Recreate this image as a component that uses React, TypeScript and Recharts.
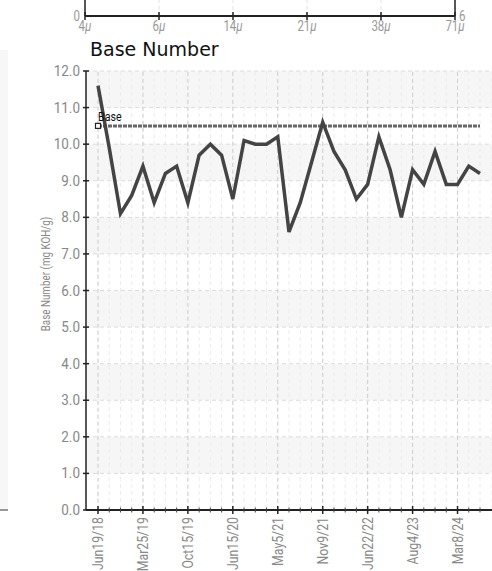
import {
  LineChart,
  Line,
  XAxis,
  YAxis,
  CartesianGrid,
  ReferenceLine,
  ReferenceDot,
} from 'recharts'

// sample dates (every 4th one is labelled on the axis)
const dates = [
  'Jun19/18', 'Aug14/18', 'Oct23/18', 'Jan8/19',
  'Mar25/19', 'May13/19', 'Jul2/19', 'Aug27/19',
  'Oct15/19', 'Dec10/19', 'Feb18/20', 'Apr14/20',
  'Jun15/20', 'Sep1/20', 'Nov17/20', 'Feb9/21',
  'May5/21', 'Jun22/21', 'Aug3/21', 'Sep21/21',
  'Nov9/21', 'Jan11/22', 'Mar8/22', 'Apr26/22',
  'Jun22/22', 'Sep13/22', 'Dec6/22', 'Mar14/23',
  'Aug4/23', 'Oct10/23', 'Nov28/23', 'Jan16/24',
  'Mar8/24', 'May2/24', 'Jun27/24',
]

// Base Number (mg KOH/g)
const baseNumber = [
  11.6, 9.9, 8.1, 8.6,
  9.4, 8.4, 9.2, 9.4,
  8.4, 9.7, 10.0, 9.7,
  8.5, 10.1, 10.0, 10.0,
  10.2, 7.6, 8.4, 9.5,
  10.6, 9.8, 9.3, 8.5,
  8.9, 10.2, 9.3, 8.0,
  9.3, 8.9, 9.8, 8.9,
  8.9, 9.4, 9.2,
]

const baseLimit = 10.5
const yTicks = [0, 1, 2, 3, 4, 5, 6, 7, 8, 9, 10, 11, 12]

// partial particle-size chart above
const sizes = ['4μ', '6μ', '14μ', '21μ', '38μ', '71μ']
const sizeLeftLabel = '0'
const sizeRightLabel = '6'

const data = dates.map((d, i) => ({ date: d, bn: baseNumber[i] }))
const sizeData = sizes.map((s) => ({ size: s }))

const FONT = 'Roboto, "Noto Sans", sans-serif'
const SQUEEZE = 0.82 // fake a condensed face

const YTick = ({ x, y, payload }: any) => (
  <g>
    <line x1={x + 3} x2={x + 9} y1={y} y2={y} stroke="#222" strokeWidth={1.5} />
    <text
      transform={`translate(${x},${y + 5}) scale(0.9,1)`}
      textAnchor="end"
      fontSize={15}
      fill="#888"
      fontFamily={FONT}
    >
      {Number(payload.value).toFixed(1)}
    </text>
  </g>
)

const XTick = ({ x, y, payload, index }: any) => {
  if (index % 4 !== 0) {
    return <line x1={x} x2={x} y1={y - 2.5} y2={y + 2.5} stroke="#444" strokeWidth={1} />
  }
  return (
    <g>
      <line x1={x} x2={x} y1={y - 4} y2={y + 4} stroke="#222" strokeWidth={1.5} />
      <text
        transform={`translate(${x + 5},${y + 7}) rotate(-90) scale(${SQUEEZE},1)`}
        textAnchor="end"
        fontSize={15}
        fill="#888"
        fontFamily={FONT}
      >
        {payload.value}
      </text>
    </g>
  )
}

const SizeTick = ({ x, y, payload }: any) => {
  const s = String(payload.value)
  return (
    <g>
      <line x1={x} x2={x} y1={y - 4} y2={y + 4} stroke="#222" strokeWidth={1.5} />
      <text
        transform={`translate(${x},${y + 15}) scale(${SQUEEZE},1)`}
        textAnchor="middle"
        fontSize={14}
        fill="#999"
        fontFamily={FONT}
      >
        {s.slice(0, -1)}
        <tspan fontStyle="italic">{s.slice(-1)}</tspan>
      </text>
    </g>
  )
}

// end labels of the particle chart's two value axes, at the bottom corners
const cornerLabel = (text: string, side: 'left' | 'right') => ({ viewBox }: any) => {
  const { x, y, width, height } = viewBox
  const tx = side === 'left' ? x + width - 5 : x + 4
  return (
    <text
      transform={`translate(${tx},${y + height + 5}) scale(${SQUEEZE},1)`}
      textAnchor={side === 'left' ? 'end' : 'start'}
      fontSize={14}
      fill="#999"
      fontFamily={FONT}
    >
      {text}
    </text>
  )
}

const BaseMarker = ({ cx, cy }: any) => (
  <g>
    <rect x={cx - 2.5} y={cy - 2.5} width={5} height={5} fill="#fff" stroke="#222" strokeWidth={1.2} />
    <text
      transform={`translate(${cx},${cy - 5}) scale(${SQUEEZE},1)`}
      fontSize={13}
      fill="#111"
      fontFamily={FONT}
    >
      Base
    </text>
  </g>
)

export default function App() {
  return (
    <div
      style={{
        position: 'fixed',
        left: 0,
        top: 0,
        width: 492,
        height: 571,
        overflow: 'hidden',
        background: '#fff',
      }}
    >
      {/* bits of the neighbouring chart on the left */}
      <div style={{ position: 'absolute', left: 0, top: 50, width: 8, height: 459, background: '#f7f7f7' }} />
      <div style={{ position: 'absolute', left: 0, top: 509, width: 8, height: 2, background: '#999' }} />

      {/* bottom of the particle chart above */}
      <div style={{ position: 'absolute', left: 0, top: -60 }}>
        <LineChart width={492} height={100} data={sizeData} margin={{ top: 10, right: 0, left: 0, bottom: 0 }}>
          <CartesianGrid horizontal={false} stroke="#e2e2e2" strokeDasharray="4 3" />
          <XAxis
            dataKey="size"
            height={24}
            padding={{ left: 0, right: 0 }}
            axisLine={{ stroke: '#222', strokeWidth: 2 }}
            tickLine={false}
            tickSize={0}
            tickMargin={0}
            interval={0}
            tick={<SizeTick />}
          />
          <YAxis
            yAxisId="l"
            width={85}
            domain={[0, 6]}
            tick={false}
            axisLine={{ stroke: '#222', strokeWidth: 1.5 }}
            tickLine={false}
            label={{ content: cornerLabel(sizeLeftLabel, 'left') }}
          />
          <YAxis
            yAxisId="r"
            orientation="right"
            width={37}
            domain={[0, 6]}
            tick={false}
            axisLine={{ stroke: '#222', strokeWidth: 1.5 }}
            tickLine={false}
            label={{ content: cornerLabel(sizeRightLabel, 'right') }}
          />
        </LineChart>
      </div>

      <svg style={{ position: 'absolute', left: 0, top: 0 }} width={260} height={62}>
        <text x={90} y={56} fontSize={19} fill="#111" fontFamily='"DejaVu Sans", Verdana, sans-serif'>
          Base Number
        </text>
      </svg>

      <div style={{ position: 'absolute', left: 0, top: 0 }}>
        <LineChart width={492} height={571} data={data} margin={{ top: 71, right: 0, left: 0, bottom: 0 }}>
          <CartesianGrid
            vertical={false}
            stroke="#dcdcdc"
            strokeDasharray="4 3"
            horizontalFill={['#f6f6f6', '#ffffff']}
          />
          <CartesianGrid horizontal={false} stroke="#ececec" strokeDasharray="4 3" />
          {dates
            .filter((_, i) => i % 4 === 0)
            .map((d) => (
              <ReferenceLine key={d} x={d} stroke="#cfcfcf" strokeDasharray="4 3" />
            ))}
          <XAxis
            dataKey="date"
            height={61}
            padding={{ left: 12, right: 12 }}
            axisLine={{ stroke: '#222', strokeWidth: 2 }}
            tickLine={false}
            tickSize={0}
            tickMargin={0}
            interval={0}
            tick={<XTick />}
          />
          <YAxis
            width={86}
            domain={[0, 12]}
            ticks={yTicks}
            interval={0}
            axisLine={{ stroke: '#222', strokeWidth: 1.5 }}
            tickLine={false}
            tickSize={0}
            tickMargin={6}
            tick={<YTick />}
            label={{
              content: () => (
                <text
                  transform={`translate(50,274) rotate(-90) scale(${SQUEEZE},1)`}
                  textAnchor="middle"
                  fontSize={12}
                  fill="#888"
                  fontFamily={FONT}
                >
                  Base Number (mg KOH/g)
                </text>
              ),
            }}
          />
          <ReferenceLine
            segment={[
              { x: dates[0], y: baseLimit },
              { x: dates[dates.length - 1], y: baseLimit },
            ]}
            stroke="#666"
            strokeWidth={3}
            strokeDasharray="4 1"
          />
          <Line
            type="linear"
            dataKey="bn"
            stroke="#444"
            strokeWidth={3.5}
            dot={false}
            activeDot={false}
            isAnimationActive={false}
          />
          <ReferenceDot x={dates[0]} y={baseLimit} r={3} shape={<BaseMarker />} />
        </LineChart>
      </div>
    </div>
  )
}
